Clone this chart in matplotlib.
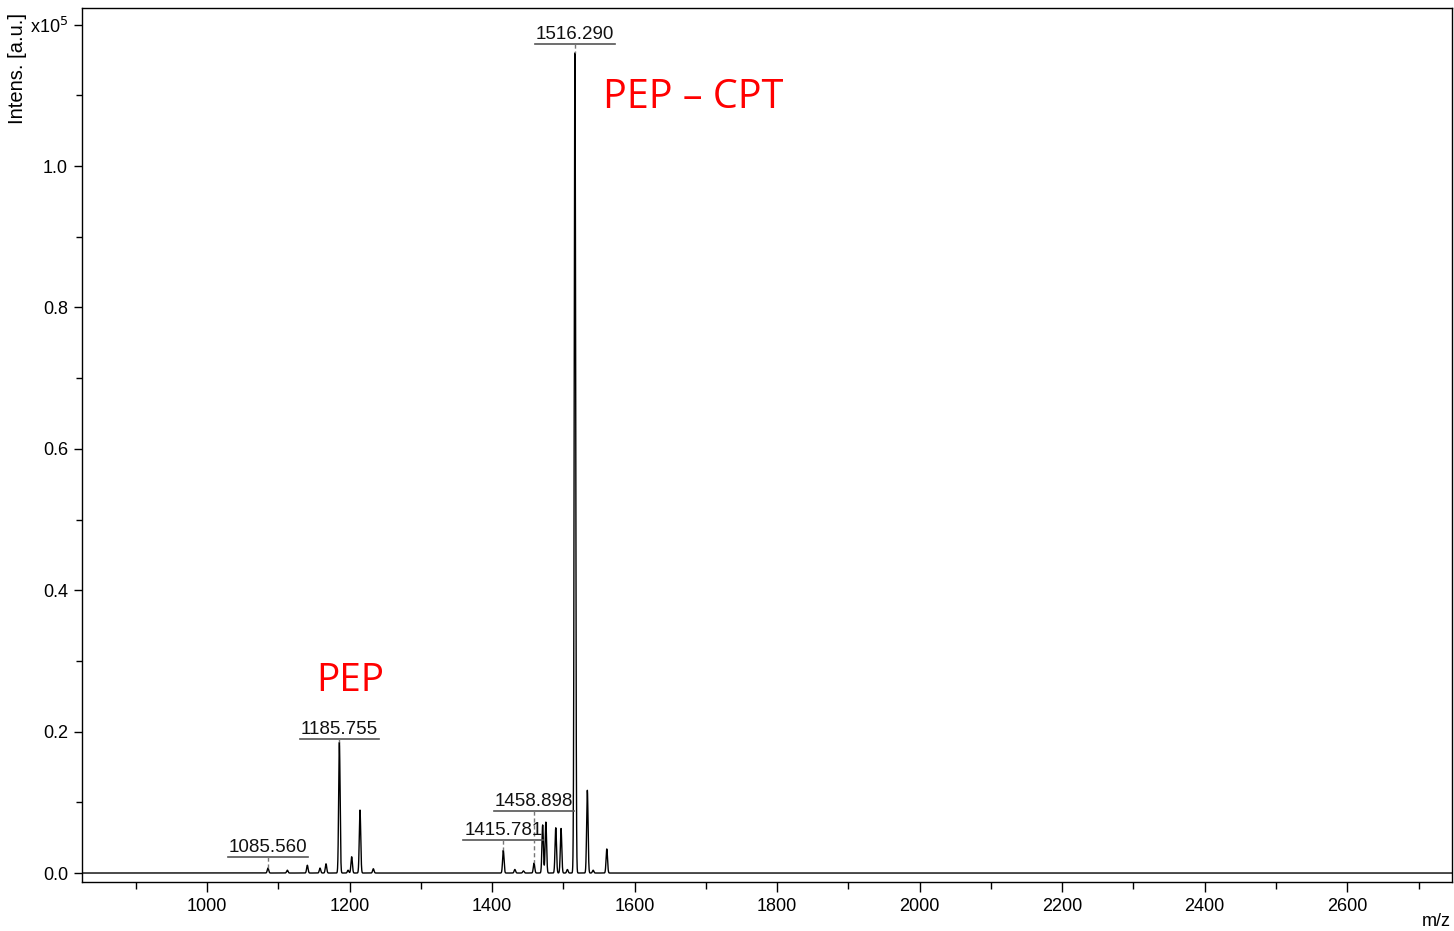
import numpy as np
import matplotlib
matplotlib.use("Agg")
import matplotlib.pyplot as plt
from matplotlib.ticker import MultipleLocator, FixedLocator, FixedFormatter

plt.rcParams['font.family'] = ['Liberation Sans', 'DejaVu Sans']

# ---- data ----
peak_mz = [1085.56, 1112.7, 1140.8, 1158.6, 1167.0, 1185.755, 1198.0, 1203.0,
           1214.7, 1233.4, 1415.781, 1432.0, 1444.0, 1458.898, 1471.0, 1475.5,
           1489.4, 1496.8, 1505.7, 1516.29, 1533.7, 1541.8, 1561.0]
peak_int = [0.007, 0.004, 0.011, 0.007, 0.013, 0.185, 0.004, 0.023,
            0.089, 0.006, 0.032, 0.005, 0.003, 0.014, 0.068, 0.072,
            0.064, 0.063, 0.005, 1.16, 0.117, 0.004, 0.034]

label_mz = [1085.560, 1185.755, 1415.781, 1458.898, 1516.290]
label_text = ["1085.560", "1185.755", "1415.781", "1458.898", "1516.290"]
label_y = [0.0226, 0.1895, 0.0467, 0.0877, 1.1725]
label_peak = [0.007, 0.185, 0.032, 0.014, 1.16]

x_ticks = [1000, 1200, 1400, 1600, 1800, 2000, 2200, 2400, 2600]
y_ticks = [0.0, 0.2, 0.4, 0.6, 0.8, 1.0, 1.2]
y_tick_labels = ["0.0", "0.2", "0.4", "0.6", "0.8", "1.0", "x10$^5$"]

# ---- build trace ----
xmin, xmax = 824.6, 2747.0
mz = np.arange(xmin, xmax, 0.1)
sigma = 1.0
trace = np.zeros_like(mz)
for c, h in zip(peak_mz, peak_int):
    trace += h * np.exp(-0.5 * ((mz - c) / sigma) ** 2)

fig = plt.figure(figsize=(14.54, 9.31), dpi=100)
ax = fig.add_axes([82/1454, 49/931, (1452-82)/1454, (882-8)/931])
ax.plot(mz, trace, color='black', lw=1.0)
ax.set_xlim(xmin, xmax)
ax.set_ylim(-0.0127, 1.2235)

ax.xaxis.set_major_locator(FixedLocator(x_ticks))
ax.xaxis.set_minor_locator(MultipleLocator(100))
ax.yaxis.set_major_locator(FixedLocator(y_ticks))
ax.yaxis.set_major_formatter(FixedFormatter(y_tick_labels))
ax.yaxis.set_minor_locator(MultipleLocator(0.1))
ax.tick_params(axis='both', which='major', direction='out', length=7.5, width=1, labelsize=13, pad=4)
ax.tick_params(axis='both', which='minor', direction='out', length=5, width=1)
ax.tick_params(axis='y', which='major', length=6)
ax.tick_params(axis='y', which='minor', length=4)
for s in ax.spines.values():
    s.set_linewidth(1.0)

fig.text(18/1454, 1 - 69/931, "Intens. [a.u.]", rotation=90, ha='center', va='center', fontsize=14.5)
fig.text(1436/1454, 1 - 921/931, "m/z", ha='center', va='center', fontsize=13)

# ---- peak labels ----
fig.canvas.draw()
renderer = fig.canvas.get_renderer()
inv = ax.transData.inverted()
for m, t, yl, pk_h in zip(label_mz, label_text, label_y, label_peak):
    txt = ax.text(m, yl, t, ha='center', va='bottom', fontsize=13.5, color='#111111')
    bb = txt.get_window_extent(renderer)
    (x0, _), (x1, _) = inv.transform([[bb.x0, 0], [bb.x1, 0]])
    ax.plot([x0 - 1, x1 + 1], [yl, yl], color='#555555', lw=1.2)
    ax.plot([m, m], [yl, pk_h], color='#777777', lw=1.0, ls=(0, (3, 2)))
    disp = ax.transData.transform([[m, yl]])[0]
    disp[1] += 1
    txt.set_position(inv.transform([disp])[0])

ax.text(1555.8, 1.082, "PEP \u2013 CPT", color='red', fontsize=28.5,
        family=['Open Sans', 'DejaVu Sans'], ha='left', va='baseline')
ax.text(1153.0, 0.257, "PEP", color='red', fontsize=28,
        family=['Open Sans', 'DejaVu Sans'], ha='left', va='baseline')

fig.savefig("out.png", dpi=100)
